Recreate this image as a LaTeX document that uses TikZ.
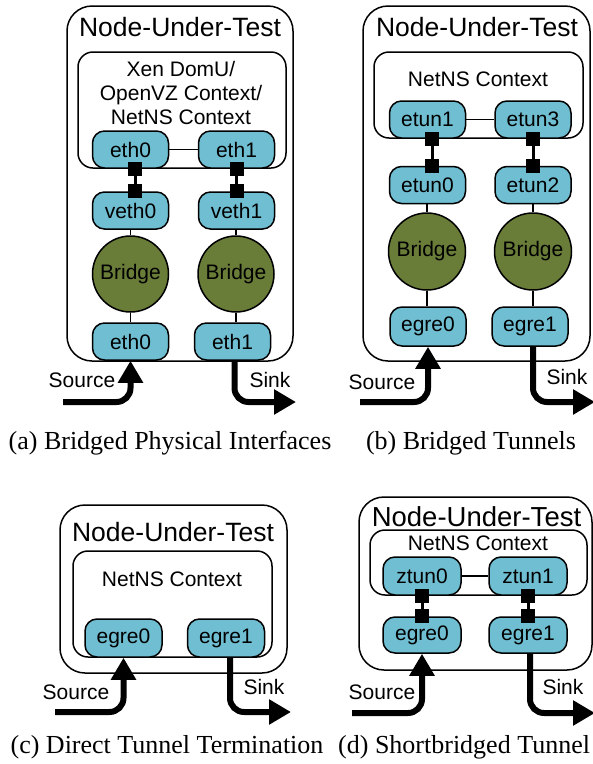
\documentclass[tikz,border=0pt]{standalone}
\usepackage{fontspec}
\setmainfont{Liberation Serif}
\newfontfamily\lsans{Liberation Sans}
\usetikzlibrary{arrows.meta}
\definecolor{ifblue}{RGB}{112,190,210}
\definecolor{brgreen}{RGB}{105,124,56}
\newcommand\iffont{\lsans\fontsize{21}{24}\selectfont}
\newcommand\ttlfont{\lsans\fontsize{26.5}{30}\selectfont}
\newcommand\capfont{\rmfamily\fontsize{26}{30}\selectfont}
\begin{document}
\begin{tikzpicture}[x=1pt,y=-1pt,
  nut/.style={draw,line width=1.5pt,rounded corners=25pt,inner sep=0pt},
  ctx/.style={draw,line width=1.5pt,rounded corners=15pt,inner sep=0pt},
  ttl/.style={font=\ttlfont,inner sep=0pt},
  ctxlabel/.style={font=\iffont,inner sep=0pt,align=center},
  iface/.style={draw,line width=1.5pt,fill=ifblue,rounded corners=12pt,minimum width=76pt,minimum height=37pt,inner sep=0pt,font=\iffont},
  bridge/.style={draw,line width=1.5pt,fill=brgreen,circle,minimum size=76pt,inner sep=0pt,font=\iffont},
  wire/.style={line width=1.3pt},
  sq/.style={fill=black,minimum size=14pt,inner sep=0pt},
  link/.style={line width=3pt},
  flow/.style={line width=6pt,rounded corners=14pt,-{Triangle[length=22pt,width=24pt]}},
  lab/.style={font=\iffont,inner sep=0pt},
  captext/.style={font=\capfont,inner sep=0pt}]
\useasboundingbox (0,0) rectangle (593,764);

% ---------------- (a) ----------------
\node[nut,minimum width=226pt,minimum height=355pt] (a-nut) at (180,183.5) {};
\node[ttl] (a-title) at (180,27) {Node-Under-Test};
\node[ctx,minimum width=208pt,minimum height=116pt] (a-ctx) at (182,110) {};
\node[ctxlabel] (a-ctxl) at (181,93) {Xen DomU/\\OpenVZ Context/\\NetNS Context};
\node[iface] (a-eth0t) at (130.5,149.5) {eth0};
\node[iface] (a-eth1t) at (236.5,149.5) {eth1};
\node[iface] (a-veth0) at (130.5,210.5) {veth0};
\node[iface] (a-veth1) at (236.5,210.5) {veth1};
\node[bridge] (a-br0) at (130.5,274) {Bridge};
\node[bridge] (a-br1) at (236,274) {Bridge};
\node[iface] (a-eth0b) at (130.5,341.5) {eth0};
\node[iface] (a-eth1b) at (232.5,341.5) {eth1};
\draw[wire] (a-eth0t) -- (a-eth1t);
\draw[wire] (a-veth0) -- (a-br0);
\draw[wire] (a-br0) -- (a-eth0b);
\draw[wire] (a-veth1.south -| a-br1) -- (a-br1);
\draw[wire] (a-br1) -- (a-br1 |- a-eth1b.north);
\node[sq] (a-sq0a) at ([xshift=4.5pt]a-eth0t.south) {};
\node[sq] (a-sq0b) at ([xshift=4.5pt]a-veth0.north) {};
\draw[link] (a-sq0a) -- (a-sq0b);
\node[sq] (a-sq1a) at (a-eth1t.south) {};
\node[sq] (a-sq1b) at (a-veth1.north) {};
\draw[link] (a-sq1a) -- (a-sq1b);
\coordinate (a-src) at (63,402);
\coordinate (a-snk) at (296,402);
\draw[flow] (a-src) -| (a-eth0b.south);
\draw[flow] ([xshift=2pt]a-eth1b.south) |- (a-snk);
\node[lab] (a-srcl) at (82,380) {Source};
\node[lab] (a-snkl) at (270,380) {Sink};
\node[captext] (a-cap) at (170,443) {(a) Bridged Physical Interfaces};

% ---------------- (b) ----------------
\node[nut,minimum width=227pt,minimum height=355pt] (b-nut) at (476.5,183.5) {};
\node[ttl] (b-title) at (477,27) {Node-Under-Test};
\node[ctx,minimum width=209pt,minimum height=86pt] (b-ctx) at (478.5,95) {};
\node[ctxlabel] (b-ctxl) at (478,79) {NetNS Context};
\node[iface] (b-etun1) at (427.5,119.5) {etun1};
\node[iface] (b-etun3) at (533,119.5) {etun3};
\node[iface] (b-etun0) at (427.5,185) {etun0};
\node[iface] (b-etun2) at (533,185) {etun2};
\node[bridge,minimum size=77pt] (b-br0) at (427,251.5) {Bridge};
\node[bridge,minimum size=77pt] (b-br1) at (533,251.5) {Bridge};
\node[iface,minimum height=39pt] (b-egre0) at (428,326.5) {egre0};
\node[iface,minimum height=39pt] (b-egre1) at (530,326.5) {egre1};
\draw[wire] (b-etun1) -- (b-etun3);
\draw[wire] (b-etun0.south -| b-br0) -- (b-br0);
\draw[wire] (b-br0) -- (b-br0 |- b-egre0.north);
\draw[wire] (b-etun2) -- (b-br1);
\draw[wire] (b-br1) -- (b-br1 |- b-egre1.north);
\node[sq] (b-sq0a) at ([xshift=4.5pt]b-etun1.south) {};
\node[sq] (b-sq0b) at ([xshift=4.5pt]b-etun0.north) {};
\draw[link] (b-sq0a) -- (b-sq0b);
\node[sq] (b-sq1a) at (b-etun3.south) {};
\node[sq] (b-sq1b) at (b-etun2.north) {};
\draw[link] (b-sq1a) -- (b-sq1b);
\coordinate (b-src) at (360,402);
\coordinate (b-snk) at (595,402);
\draw[flow] (b-src) -| (b-egre0.south);
\draw[flow] ([xshift=3pt]b-egre1.south) |- (b-snk);
\node[lab] (b-srcl) at (382,382) {Source};
\node[lab] (b-snkl) at (567,377) {Sink};
\node[captext] (b-cap) at (471,443) {(b) Bridged Tunnels};

% ---------------- (c) ----------------
\node[nut,minimum width=227pt,minimum height=168pt] (c-nut) at (173.5,589) {};
\node[ttl] (c-title) at (173,532) {Node-Under-Test};
\node[ctx,minimum width=199pt,minimum height=106pt] (c-ctx) at (172.5,604) {};
\node[ctxlabel] (c-ctxl) at (172,579) {NetNS Context};
\node[iface,minimum width=77pt,minimum height=38pt] (c-egre0) at (123.5,638) {egre0};
\node[iface,minimum width=77pt,minimum height=38pt] (c-egre1) at (226,638) {egre1};
\coordinate (c-src) at (55,712);
\coordinate (c-snk) at (291,712);
\draw[flow] (c-src) -| (c-egre0.south);
\draw[flow] ([xshift=4pt]c-egre1.south) |- (c-snk);
\node[lab] (c-srcl) at (76,692) {Source};
\node[lab] (c-snkl) at (264,687) {Sink};
\node[captext] (c-cap) at (167,747) {(c) Direct Tunnel Termination};

% ---------------- (d) ----------------
\node[nut,minimum width=233pt,minimum height=173pt] (d-nut) at (475.5,583.5) {};
\node[ttl,font=\lsans\fontsize{27.5}{30}\selectfont] (d-title) at (476.5,517) {Node-Under-Test};
\node[ctx,minimum width=217pt,minimum height=65pt] (d-ctx) at (478.5,562.5) {};
\node[ctxlabel] (d-ctxl) at (478,543) {NetNS Context};
\node[iface,minimum width=78pt,minimum height=38pt] (d-ztun0) at (422,576) {ztun0};
\node[iface,minimum width=78pt,minimum height=38pt] (d-ztun1) at (528,576) {ztun1};
\node[iface,minimum width=78pt,minimum height=36pt] (d-egre0) at (422,635) {egre0};
\node[iface,minimum width=78pt,minimum height=36pt] (d-egre1) at (528,635) {egre1};
\draw[wire] (d-ztun0) -- (d-ztun1);
\node[sq] (d-sq0a) at (d-ztun0.south) {};
\node[sq] (d-sq0b) at (d-egre0.north) {};
\draw[link] (d-sq0a) -- (d-sq0b);
\node[sq] (d-sq1a) at (d-ztun1.south) {};
\node[sq] (d-sq1b) at (d-egre1.north) {};
\draw[link] (d-sq1a) -- (d-sq1b);
\coordinate (d-src) at (352,713);
\coordinate (d-snk) at (595,713);
\draw[flow] (d-src) -| (d-egre0.south);
\draw[flow] ([xshift=2pt]d-egre1.south) |- (d-snk);
\node[lab] (d-srcl) at (382,692) {Source};
\node[lab] (d-snkl) at (563,687) {Sink};
\node[captext,anchor=west] (d-cap) at (338,747) {(d) Shortbridged Tunnel};
\end{tikzpicture}
\end{document}
